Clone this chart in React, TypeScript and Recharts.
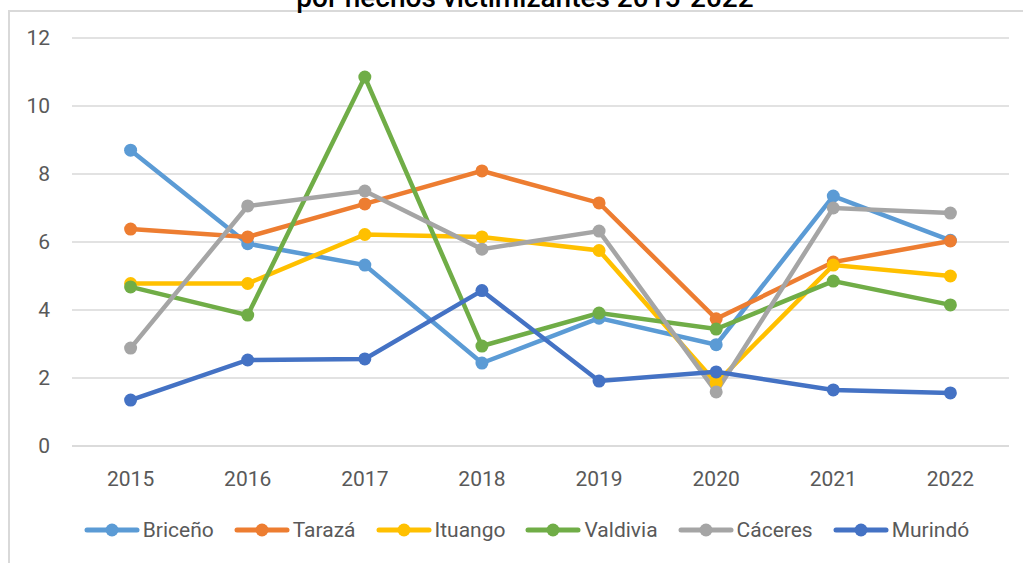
import React from 'react';
import { LineChart, Line, XAxis, YAxis, CartesianGrid } from 'recharts';

const years = ['2015', '2016', '2017', '2018', '2019', '2020', '2021', '2022'];
const yTicks = [0, 2, 4, 6, 8, 10, 12];

const briceno = [8.7, 5.95, 5.32, 2.44, 3.76, 2.98, 7.35, 6.05];
const taraza = [6.38, 6.15, 7.12, 8.09, 7.15, 3.74, 5.41, 6.03];
const ituango = [4.78, 4.78, 6.22, 6.15, 5.75, 1.85, 5.32, 5.0];
const valdivia = [4.68, 3.85, 10.85, 2.94, 3.91, 3.44, 4.85, 4.15];
const caceres = [2.88, 7.06, 7.5, 5.79, 6.32, 1.59, 7.0, 6.85];
const murindo = [1.35, 2.53, 2.56, 4.57, 1.91, 2.18, 1.65, 1.56];

const series = [
  { key: 'briceno', name: 'Briceño', color: '#5B9BD5', values: briceno },
  { key: 'taraza', name: 'Tarazá', color: '#ED7D31', values: taraza },
  { key: 'ituango', name: 'Ituango', color: '#FFC000', values: ituango },
  { key: 'valdivia', name: 'Valdivia', color: '#70AD47', values: valdivia },
  { key: 'caceres', name: 'Cáceres', color: '#A5A5A5', values: caceres },
  { key: 'murindo', name: 'Murindó', color: '#4472C4', values: murindo },
];

const data = years.map((year, i) => {
  const row: Record<string, string | number> = { year };
  series.forEach(s => { row[s.key] = s.values[i]; });
  return row;
});

const FONT = 'Roboto, "Liberation Sans", sans-serif';
const TEXT = '#595959';

const App: React.FC = () => {
  return (
    <div style={{ position: 'absolute', left: 0, top: 0, width: 1023, height: 563, overflow: 'hidden', background: '#fff', fontFamily: FONT }}>
      {/* chart frame, runs off the right and bottom edges */}
      <div style={{ position: 'absolute', left: 8, top: 10, width: 1100, height: 700, border: '2px solid #D9D9D9', boxSizing: 'border-box' }} />

      {/* second title line, cut by the top edge as in the source */}
      <svg width={1023} height={20} style={{ position: 'absolute', left: 0, top: 0 }}>
        <text x={525} y={6.5} textAnchor="middle" fontFamily={FONT} fontSize={28} fontWeight={500} fill="#000">
          por hechos victimizantes 2015-2022
        </text>
      </svg>

      <div style={{ position: 'absolute', left: 0, top: 0 }}>
        <LineChart width={1023} height={563} data={data} margin={{ top: 38, right: 14, left: 0, bottom: 87 }}>
          <CartesianGrid vertical={false} stroke="#D9D9D9" strokeWidth={1.5} />
          <XAxis
            dataKey="year"
            axisLine={{ stroke: '#D9D9D9', strokeWidth: 1.5 }}
            tickLine={false}
            tickMargin={19}
            height={30}
            padding={{ left: 58.6, right: 58.6 }}
            tick={{ fill: TEXT, fontSize: 21, fontFamily: FONT }}
          />
          <YAxis
            domain={[0, 12]}
            ticks={yTicks}
            width={72}
            axisLine={false}
            tickLine={false}
            tickMargin={16}
            tick={{ fill: TEXT, fontSize: 21, fontFamily: FONT }}
          />
          {series.map(s => (
            <Line
              key={s.key}
              dataKey={s.key}
              name={s.name}
              type="linear"
              stroke={s.color}
              strokeWidth={4.5}
              dot={{ r: 6.5, fill: s.color, stroke: s.color, strokeWidth: 0 }}
              activeDot={false}
              isAnimationActive={false}
            />
          ))}
        </LineChart>
      </div>

      <div style={{ position: 'absolute', left: 0, width: 1053, top: 515, height: 30, display: 'flex', justifyContent: 'center', alignItems: 'center', gap: 20 }}>
        {series.map(s => (
          <div key={s.key} style={{ display: 'flex', alignItems: 'center' }}>
            <svg width={56} height={16} style={{ marginRight: 3 }}>
              <line x1={3} y1={8} x2={53} y2={8} stroke={s.color} strokeWidth={5} strokeLinecap="round" />
              <circle cx={28} cy={8} r={6.5} fill={s.color} />
            </svg>
            <span style={{ fontSize: 21, color: TEXT, lineHeight: '30px' }}>{s.name}</span>
          </div>
        ))}
      </div>
    </div>
  );
};

export default App;
